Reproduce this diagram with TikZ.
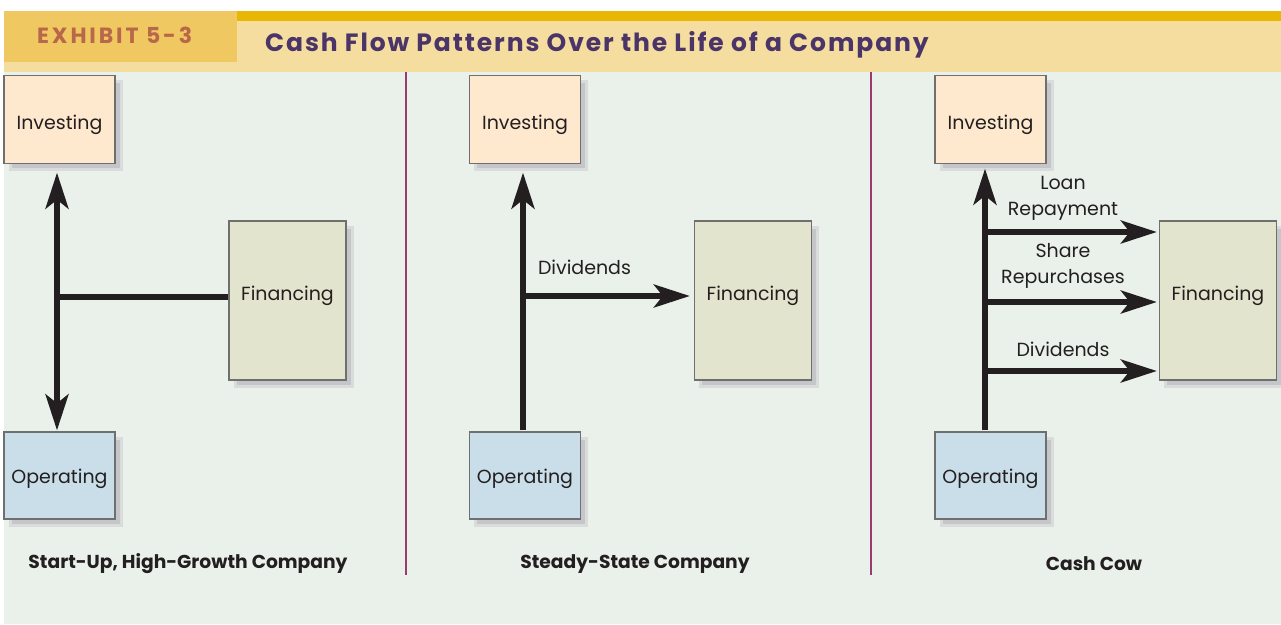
\documentclass[tikz,border=0pt]{standalone}
\usepackage{fontspec}
\setmainfont{Poppins}
\usetikzlibrary{arrows.meta}
\definecolor{goldbar}{HTML}{E8B706}
\definecolor{exhbox}{HTML}{F0C862}
\definecolor{band}{HTML}{F5DDA0}
\definecolor{exhtxt}{HTML}{B8674A}
\definecolor{titletxt}{HTML}{4A3468}
\definecolor{panelbg}{HTML}{EAF1EA}
\definecolor{divider}{HTML}{9A3A6E}
\definecolor{invfill}{HTML}{FEE9CF}
\definecolor{finfill}{HTML}{E2E4CE}
\definecolor{opfill}{HTML}{CADEEA}
\definecolor{boxline}{HTML}{6F6F6F}
\definecolor{shadowc}{HTML}{C5C6C9}
\definecolor{shadowl}{HTML}{D9DCDA}
\definecolor{ink}{HTML}{231F20}
\newcommand\bodyfnt{\fontsize{19}{26}\selectfont}
\newcommand\capfnt{\fontsize{18.7}{24}\selectfont\bfseries}
\newcommand\dn[2]{\raisebox{#1}[\height][\depth]{#2}}
\tikzset{
  box/.style={draw=boxline, line width=1.4pt, text=ink, font=\bodyfnt,
    inner sep=0pt, anchor=center,
    preaction={draw=shadowl, line width=3pt, fill=shadowc,
      transform canvas={shift={(6,6)}}}},
  invbox/.style={box, fill=invfill, minimum width=111pt, minimum height=88pt},
  opbox/.style={box, fill=opfill, minimum width=111pt, minimum height=87pt},
  finbox/.style={box, fill=finfill, minimum width=117pt, minimum height=159pt},
  flow/.style={draw=ink, line width=5.5pt},
  tipped/.style={-{Stealth[length=36pt,width=23pt,inset=9pt]}},
  dtipped/.style={{Stealth[length=36pt,width=23pt,inset=9pt]}-{Stealth[length=36pt,width=23pt,inset=9pt]}},
  lbl/.style={text=ink, font=\bodyfnt, align=center, inner sep=0pt},
  caption/.style={text=ink, font=\capfnt, inner sep=0pt},
  divline/.style={draw=divider, line width=2.5pt}
}
\begin{document}
\begin{tikzpicture}[x=1pt,y=-1pt]
\useasboundingbox (0,0) rectangle (1281,624);
\fill[white] (0,0) rectangle (1281,624);
% header
\fill[panelbg] (4,72) rectangle (1281,624);
\fill[band] (4,21) rectangle (1281,72);
\fill[goldbar] (4,11) rectangle (1281,21);
\fill[exhbox] (4,11) rectangle (237,62);
\node[text=exhtxt, font={\fontsize{22}{26}\selectfont\bfseries\addfontfeatures{LetterSpace=13}}, anchor=west, inner sep=0pt] (exh) at (37,35) {EXHIBIT 5-3};
\node[text=titletxt, font={\fontsize{25}{30}\selectfont\bfseries\addfontfeatures{LetterSpace=7.6}}, anchor=west, inner sep=0pt] (title) at (265,45) {Cash Flow Patterns Over the Life of a Company};
% dividers
\draw[divline] (406,72) -- (406,575);
\draw[divline] (871,72) -- (871,575);
% panel 1
\node[invbox] (inv1) at (59.5,119.5) {\dn{-5pt}{Investing}};
\node[opbox] (op1) at (59.5,475.5) {\dn{-3pt}{Operating}};
\node[finbox] (fin1) at (287.5,300.5) {\dn{5pt}{Financing}};
\coordinate (a1) at (57,297);
\draw[flow, dtipped, shorten <=8.5pt, shorten >=1pt] (inv1.south -| a1) -- (op1.north -| a1);
\draw[flow] (a1) -- (fin1.west |- a1);
\node[caption] (c1) at (188,564) {Start-Up, High-Growth Company};
% panel 2
\node[invbox] (inv2) at (525,119.5) {\dn{-5pt}{Investing}};
\node[opbox] (op2) at (525,475.5) {\dn{-3pt}{Operating}};
\node[finbox] (fin2) at (753,300.5) {\dn{5pt}{Financing}};
\coordinate (a2) at (523,296);
\draw[flow, tipped, shorten <=1pt, shorten >=8.5pt] (op2.north -| a2) -- (inv2.south -| a2);
\draw[flow, tipped, shorten >=4pt] (a2) -- (fin2.west |- a2);
\node[lbl] (d2) at (584.5,267) {Dividends};
\node[caption] (c2) at (635,564) {Steady-State Company};
% panel 3
\node[invbox] (inv3) at (990.5,119.5) {\dn{-5pt}{Investing}};
\node[opbox] (op3) at (990.5,475.5) {\dn{-3pt}{Operating}};
\node[finbox] (fin3) at (1218,300.5) {\dn{5pt}{Financing}};
\coordinate (a3) at (985,232);
\coordinate (b3) at (985,302);
\coordinate (e3) at (985,371);
\draw[flow, tipped, shorten <=1pt, shorten >=4.5pt] (op3.north -| a3) -- (inv3.south -| a3);
\draw[flow, tipped, shorten >=2pt] (a3) -- (fin3.west |- a3);
\draw[flow, tipped, shorten >=2pt] (b3) -- (fin3.west |- b3);
\draw[flow, tipped, shorten >=2pt] (e3) -- (fin3.west |- e3);
\node[lbl] (l3) at (1063,198) {Loan\\Repayment};
\node[lbl] (s3) at (1063,266) {Share\\Repurchases};
\node[lbl] (d3) at (1063,349) {Dividends};
\node[caption] (c3) at (1094,564) {Cash Cow};
\end{tikzpicture}
\end{document}
